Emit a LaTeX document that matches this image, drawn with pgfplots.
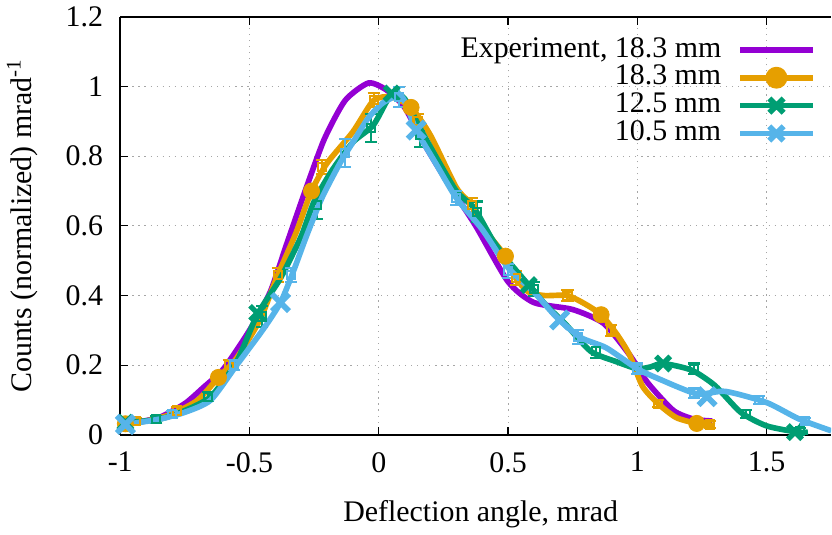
\documentclass[border=0pt]{standalone}
\usepackage{fontspec}
\setmainfont{Liberation Serif}
\usepackage{pgfplots}
\pgfplotsset{compat=1.18}
\definecolor{gpPurple}{HTML}{9400D3}
\definecolor{gpOrange}{HTML}{E69F00}
\definecolor{gpGreen}{HTML}{009E73}
\definecolor{gpBlue}{HTML}{56B4E9}
\newcommand{\gpfont}{\fontsize{14.8}{17}\selectfont}

\pgfplotsset{
  curve/.style={line width=2.8pt, smooth, tension=0.4, forget plot},
  errpts/.style={only marks, mark=square, mark size=2pt, line width=1pt, forget plot,
    error bars/.cd, y dir=both, y explicit,
    error bar style={line width=1pt},
    error mark options={rotate=90, mark size=3pt, line width=1pt}},
}

\begin{document}
\begin{tikzpicture}[font=\gpfont]
\begin{axis}[
  scale only axis, width=352pt, height=207pt,
  xmin=-1, xmax=1.75, ymin=0, ymax=1.2,
  axis x line=box, axis y line*=left, ytick pos=left,
  y axis line style={-}, axis line style={line width=0.8pt},
  xtick={-1,-0.5,0,0.5,1,1.5},
  ytick={0,0.2,0.4,0.6,0.8,1,1.2},
  tick align=inside, major tick length=4pt,
  tick style={line width=0.6pt, black},
  grid=major, grid style={line width=0.5pt, gray!70, dash pattern=on 0.6pt off 2.4pt},
  /pgf/number format/assume math mode=true,
  every tick label/.append style={font=\gpfont},
  yticklabel style={xshift=-5pt}, xticklabel style={yshift=-5pt},
  xlabel={Deflection angle, mrad},
  ylabel={Counts (normalized) mrad\textsuperscript{-1}},
  xlabel style={at={(rel axis cs:0.507,0)}, anchor=base, yshift=-43pt},
  ylabel style={at={(rel axis cs:-0.138,0.5)}, anchor=center},
  legend plot pos=right, legend cell align=right,
  legend image code/.code={\draw[mark repeat=2,mark phase=2] plot coordinates {(0cm,0cm) (0.63cm,0cm) (1.26cm,0cm)};},
  legend style={draw=none, fill=none, at={(rel axis cs:0.987,0.965)}, anchor=north east,
    font=\gpfont, nodes={inner sep=0pt, text height=10.5pt, text depth=3.3pt},
    column sep=8pt, row sep=0pt},
]
% experiment
\addplot[gpPurple, curve] coordinates {
  (-0.98,0.03) (-0.85,0.05) (-0.75,0.09) (-0.68,0.135) (-0.6,0.19) (-0.5,0.30)
  (-0.42,0.41) (-0.355,0.55) (-0.28,0.71) (-0.21,0.85) (-0.13,0.96) (-0.04,1.01)
  (0.03,0.99) (0.1,0.94) (0.18,0.83) (0.27,0.72) (0.375,0.60) (0.5,0.44)
  (0.6,0.38) (0.75,0.36) (0.87,0.32) (0.97,0.23) (1.04,0.15) (1.14,0.07)
  (1.22,0.045) (1.29,0.04)
};
% 18.3 mm
\addplot[gpOrange, curve] coordinates {
  (-0.98,0.032) (-0.9,0.04) (-0.8,0.06) (-0.7,0.1) (-0.62,0.165) (-0.55,0.22)
  (-0.46,0.33) (-0.39,0.46) (-0.32,0.58) (-0.26,0.70) (-0.2,0.78) (-0.1,0.87)
  (-0.02,0.96) (0.05,0.97) (0.125,0.94) (0.2,0.86) (0.3,0.71) (0.36,0.66)
  (0.42,0.58) (0.49,0.513) (0.53,0.45) (0.58,0.41) (0.64,0.40) (0.73,0.40)
  (0.8,0.375) (0.86,0.345) (0.92,0.29) (0.97,0.23) (1.02,0.14) (1.08,0.09)
  (1.15,0.05) (1.23,0.033) (1.30,0.027)
};
\addplot[gpOrange, errpts] table[x=x, y=y, y error=e] {
x y e
-0.94 0.04 0.01
-0.78 0.07 0.01
-0.58 0.20 0.015
-0.39 0.46 0.02
-0.22 0.77 0.02
-0.02 0.96 0.02
0.15 0.90 0.02
0.36 0.66 0.02
0.53 0.45 0.02
0.73 0.40 0.015
0.90 0.30 0.015
1.08 0.09 0.01
1.28 0.03 0.01
};
\addplot[gpOrange, only marks, mark=*, mark size=4pt, forget plot] coordinates {
  (-0.98,0.032) (-0.62,0.165) (-0.26,0.70) (0.125,0.94) (0.49,0.513) (0.86,0.345) (1.23,0.033)
};
% 12.5 mm
\addplot[gpGreen, curve] coordinates {
  (-0.98,0.035) (-0.85,0.045) (-0.75,0.07) (-0.65,0.11) (-0.55,0.21) (-0.47,0.345)
  (-0.38,0.45) (-0.3,0.57) (-0.25,0.67) (-0.18,0.76) (-0.1,0.84) (-0.02,0.89)
  (0.05,0.98) (0.1,0.965) (0.16,0.88) (0.22,0.80) (0.3,0.70) (0.37,0.65)
  (0.44,0.56) (0.5,0.50) (0.58,0.43) (0.65,0.37) (0.72,0.32) (0.82,0.24)
  (0.92,0.21) (1.0,0.19) (1.05,0.195) (1.1,0.205) (1.21,0.186) (1.30,0.142)
  (1.4,0.065) (1.5,0.026) (1.62,0.008) (1.66,0.008)
};
\addplot[gpGreen, errpts] table[x=x, y=y, y error=e] {
x y e
-0.86 0.045 0.01
-0.66 0.11 0.012
-0.45 0.34 0.03
-0.24 0.66 0.04
-0.03 0.88 0.04
0.16 0.86 0.035
0.38 0.64 0.03
0.60 0.42 0.02
0.84 0.24 0.02
1.00 0.19 0.015
1.22 0.19 0.015
1.42 0.06 0.012
1.63 0.01 0.01
};
\addplot[gpGreen, only marks, mark=x, mark size=5pt, line width=2.6pt, forget plot] coordinates {
  (-0.98,0.035) (-0.47,0.35) (0.05,0.98) (0.58,0.43) (1.1,0.205) (1.61,0.008)
};
% 10.5 mm
\addplot[gpBlue, curve] coordinates {
  (-0.98,0.03) (-0.85,0.045) (-0.75,0.065) (-0.65,0.1) (-0.55,0.2) (-0.45,0.3)
  (-0.38,0.38) (-0.33,0.47) (-0.28,0.57) (-0.22,0.68) (-0.15,0.78) (-0.1,0.84)
  (-0.04,0.91) (0.02,0.955) (0.09,0.97) (0.145,0.875) (0.22,0.78) (0.3,0.68) (0.4,0.59)
  (0.5,0.48) (0.6,0.41) (0.69,0.336) (0.78,0.28) (0.88,0.25) (1.0,0.19)
  (1.08,0.162) (1.23,0.118) (1.34,0.125) (1.5,0.093) (1.625,0.046) (1.75,0.012)
};
\addplot[gpBlue, errpts] table[x=x, y=y, y error=e] {
x y e
-0.80 0.06 0.01
-0.56 0.20 0.015
-0.34 0.46 0.02
-0.13 0.81 0.04
0.08 0.97 0.03
0.30 0.68 0.02
0.50 0.47 0.02
0.77 0.28 0.02
1.00 0.19 0.015
1.22 0.12 0.015
1.47 0.10 0.012
1.65 0.04 0.01
};
\addplot[gpBlue, only marks, mark=x, mark size=6pt, line width=2.8pt, forget plot] coordinates {
  (-0.98,0.03) (-0.38,0.38) (0.145,0.875) (0.70,0.33) (1.27,0.11)
};
% legend
\addlegendimage{gpPurple, line width=2.8pt}
\addlegendentry{Experiment, 18.3 mm}
\addlegendimage{gpOrange, line width=2.8pt, mark=*, mark size=4pt}
\addlegendentry{18.3 mm}
\addlegendimage{gpGreen, line width=2.8pt, mark=x, mark size=5pt}
\addlegendentry{12.5 mm}
\addlegendimage{gpBlue, line width=2.8pt, mark=x, mark size=5pt}
\addlegendentry{10.5 mm}
\end{axis}
\end{tikzpicture}
\end{document}
